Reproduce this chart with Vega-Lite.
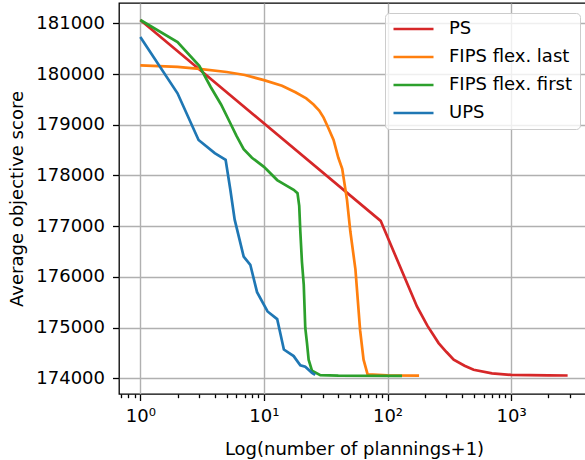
{
  "$schema": "https://vega.github.io/schema/vega-lite/v6.json",
  "autosize": {"type": "none"},
  "padding": {"left": 119, "top": 3, "right": 0, "bottom": 66},
  "width": 470,
  "height": 391,
  "background": "white",
  "config": {
    "font": "DejaVu Sans",
    "view": {"stroke": "black", "strokeWidth": 1.3},
    "axis": {
      "labelFont": "DejaVu Sans",
      "titleFont": "DejaVu Sans",
      "labelFontSize": 18,
      "titleFontSize": 18,
      "titleFontWeight": "normal",
      "labelColor": "#000000",
      "titleColor": "#000000",
      "tickColor": "#000000",
      "tickWidth": 1.3,
      "gridColor": "#b0b0b0",
      "gridWidth": 1.4,
      "domain": false
    },
    "legend": {
      "labelFont": "DejaVu Sans",
      "labelFontSize": 18,
      "labelColor": "#000000"
    }
  },
  "data": {
    "values": [
      {"s": "PS", "x": 1, "y": 181065},
      {"s": "PS", "x": 88, "y": 177106},
      {"s": "PS", "x": 173, "y": 175418},
      {"s": "PS", "x": 210, "y": 175040},
      {"s": "PS", "x": 259, "y": 174697},
      {"s": "PS", "x": 300, "y": 174520},
      {"s": "PS", "x": 343, "y": 174368},
      {"s": "PS", "x": 420, "y": 174250},
      {"s": "PS", "x": 497, "y": 174171},
      {"s": "PS", "x": 700, "y": 174100},
      {"s": "PS", "x": 1000, "y": 174070},
      {"s": "PS", "x": 2000, "y": 174060},
      {"s": "PS", "x": 2865, "y": 174058},

      {"s": "FIPS flex. last", "x": 1, "y": 180172},
      {"s": "FIPS flex. last", "x": 2, "y": 180140},
      {"s": "FIPS flex. last", "x": 3, "y": 180100},
      {"s": "FIPS flex. last", "x": 5, "y": 180040},
      {"s": "FIPS flex. last", "x": 7, "y": 179980},
      {"s": "FIPS flex. last", "x": 10, "y": 179880},
      {"s": "FIPS flex. last", "x": 14, "y": 179770},
      {"s": "FIPS flex. last", "x": 18, "y": 179640},
      {"s": "FIPS flex. last", "x": 22, "y": 179520},
      {"s": "FIPS flex. last", "x": 25.2, "y": 179400},
      {"s": "FIPS flex. last", "x": 28, "y": 179280},
      {"s": "FIPS flex. last", "x": 30.4, "y": 179140},
      {"s": "FIPS flex. last", "x": 33, "y": 178950},
      {"s": "FIPS flex. last", "x": 36.6, "y": 178700},
      {"s": "FIPS flex. last", "x": 40, "y": 178350},
      {"s": "FIPS flex. last", "x": 43, "y": 178130},
      {"s": "FIPS flex. last", "x": 47, "y": 177520},
      {"s": "FIPS flex. last", "x": 50, "y": 176900},
      {"s": "FIPS flex. last", "x": 55, "y": 176150},
      {"s": "FIPS flex. last", "x": 60, "y": 174950},
      {"s": "FIPS flex. last", "x": 64, "y": 174370},
      {"s": "FIPS flex. last", "x": 69, "y": 174080},
      {"s": "FIPS flex. last", "x": 100, "y": 174060},
      {"s": "FIPS flex. last", "x": 180, "y": 174055},

      {"s": "FIPS flex. first", "x": 1, "y": 181065},
      {"s": "FIPS flex. first", "x": 2, "y": 180630},
      {"s": "FIPS flex. first", "x": 3, "y": 180160},
      {"s": "FIPS flex. first", "x": 3.7, "y": 179750},
      {"s": "FIPS flex. first", "x": 4.5, "y": 179400},
      {"s": "FIPS flex. first", "x": 5.35, "y": 179030},
      {"s": "FIPS flex. first", "x": 6, "y": 178780},
      {"s": "FIPS flex. first", "x": 6.86, "y": 178520},
      {"s": "FIPS flex. first", "x": 8, "y": 178350},
      {"s": "FIPS flex. first", "x": 10, "y": 178170},
      {"s": "FIPS flex. first", "x": 12.8, "y": 177910},
      {"s": "FIPS flex. first", "x": 14.5, "y": 177830},
      {"s": "FIPS flex. first", "x": 17.4, "y": 177717},
      {"s": "FIPS flex. first", "x": 18.7, "y": 177650},
      {"s": "FIPS flex. first", "x": 19.3, "y": 177400},
      {"s": "FIPS flex. first", "x": 19.7, "y": 176900},
      {"s": "FIPS flex. first", "x": 20.3, "y": 176300},
      {"s": "FIPS flex. first", "x": 21, "y": 175850},
      {"s": "FIPS flex. first", "x": 21.6, "y": 175000},
      {"s": "FIPS flex. first", "x": 22.3, "y": 174700},
      {"s": "FIPS flex. first", "x": 23, "y": 174370},
      {"s": "FIPS flex. first", "x": 24.5, "y": 174150},
      {"s": "FIPS flex. first", "x": 28.6, "y": 174065},
      {"s": "FIPS flex. first", "x": 40, "y": 174055},
      {"s": "FIPS flex. first", "x": 131, "y": 174050},

      {"s": "UPS", "x": 1, "y": 180730},
      {"s": "UPS", "x": 2, "y": 179620},
      {"s": "UPS", "x": 2.96, "y": 178700},
      {"s": "UPS", "x": 4.0, "y": 178440},
      {"s": "UPS", "x": 4.9, "y": 178310},
      {"s": "UPS", "x": 5.35, "y": 177720},
      {"s": "UPS", "x": 5.8, "y": 177130},
      {"s": "UPS", "x": 6.86, "y": 176400},
      {"s": "UPS", "x": 7.76, "y": 176240},
      {"s": "UPS", "x": 8.8, "y": 175700},
      {"s": "UPS", "x": 10.7, "y": 175320},
      {"s": "UPS", "x": 12.8, "y": 175170},
      {"s": "UPS", "x": 14.5, "y": 174570},
      {"s": "UPS", "x": 17.4, "y": 174440},
      {"s": "UPS", "x": 19.7, "y": 174260},
      {"s": "UPS", "x": 21.6, "y": 174230},
      {"s": "UPS", "x": 24.5, "y": 174110},
      {"s": "UPS", "x": 26, "y": 174070}
    ]
  },
  "mark": {"type": "line", "strokeWidth": 2.7, "clip": true},
  "encoding": {
    "x": {
      "field": "x",
      "type": "quantitative",
      "scale": {"type": "log", "domain": [0.6723, 4266], "nice": false, "zero": false},
      "axis": {
        "title": "Log(number of plannings+1)",
        "titlePadding": 15,
        "values": [0.7, 0.8, 0.9, 1, 2, 3, 4, 5, 6, 7, 8, 9, 10, 20, 30, 40, 50, 60, 70, 80, 90, 100, 200, 300, 400, 500, 600, 700, 800, 900, 1000, 2000, 3000, 4000],
        "labelExpr": "datum.value == 1 ? '10⁰' : datum.value == 10 ? '10¹' : datum.value == 100 ? '10²' : datum.value == 1000 ? '10³' : ''",
        "labelOverlap": false,
        "labelFlush": false,
        "labelPadding": 7,
        "tickSize": {"condition": {"test": "datum.value == 1 || datum.value == 10 || datum.value == 100 || datum.value == 1000", "value": 6.5}, "value": 3.7},
        "gridOpacity": {"condition": {"test": "datum.value == 1 || datum.value == 10 || datum.value == 100 || datum.value == 1000", "value": 1}, "value": 0}
      }
    },
    "y": {
      "field": "y",
      "type": "quantitative",
      "scale": {"domain": [173693, 181400], "nice": false, "zero": false},
      "axis": {
        "title": "Average objective score",
        "titlePadding": 9,
        "values": [174000, 175000, 176000, 177000, 178000, 179000, 180000, 181000],
        "format": "d",
        "tickSize": 6.5,
        "labelPadding": 8
      }
    },
    "color": {
      "field": "s",
      "type": "nominal",
      "scale": {
        "domain": ["PS", "FIPS flex. last", "FIPS flex. first", "UPS"],
        "range": ["#d62728", "#ff7f0e", "#2ca02c", "#1f77b4"]
      },
      "legend": {
        "title": null,
        "orient": "none",
        "legendX": 266,
        "legendY": 10,
        "symbolType": "stroke",
        "symbolSize": 1600,
        "symbolStrokeWidth": 2.7,
        "clipHeight": 18,
        "labelOffset": 14,
        "rowPadding": 10,
        "padding": 7,
        "fillColor": "rgba(255,255,255,0.8)",
        "strokeColor": "#cccccc",
        "cornerRadius": 4
      }
    }
  }
}
